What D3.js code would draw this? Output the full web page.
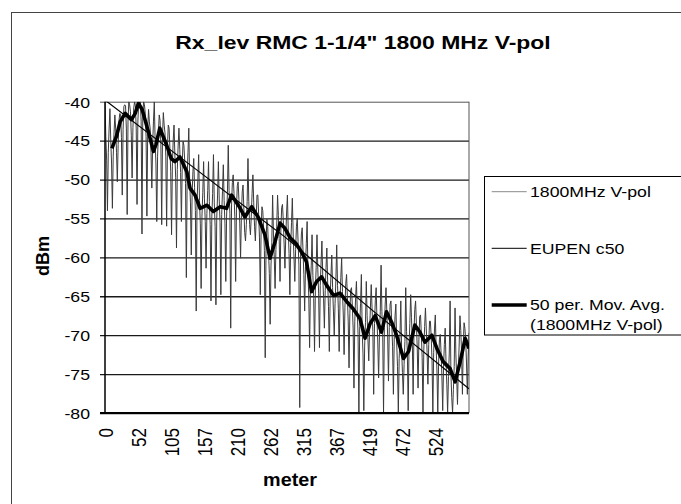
<!DOCTYPE html>
<html>
<head>
<meta charset="utf-8">
<script src="https://cdn.jsdelivr.net/npm/d3@7"></script>
<style>
html, body { margin: 0; padding: 0; background: #fff; }
svg { display: block; font-family: "Liberation Sans", Arial, sans-serif; }
</style>
</head>
<body>
<div id="chart"></div>
<script>
// y axis ticks (dBm)
const yTicks = [-40, -45, -50, -55, -60, -65, -70, -75, -80];

// x axis: category labels every 100 samples (meters)
const xTickMeters = [0, 52.43, 104.86, 157.29, 209.72, 262.15, 314.58, 367.01, 419.44, 471.87, 524.3];
const xTickLabels = ["0", "52", "105", "157", "210", "262", "315", "367", "419", "472", "524"];
const lastMeter = 578;

// 1800MHz V-pol, raw level (evenly spaced from 0 to lastMeter)
const rawDbm = [
  -40, -44.5, -47.5, -54, -46.5, -43.5,     -40.9, -45, -48, -53.7, -47, -44,
  -41.7, -43.5, -46.5, -50.3, -45.5, -42.5, -41.5, -41.6, -44.6, -52, -43.6, -40.6,
  -40.4, -40.5, -43.5, -54.5, -42.5, -40,   -40.4, -41.3, -44.3, -49.8, -43.3, -40.8,
  -40, -40.5, -43.5, -53.2, -42.5, -40.2,   -40.2, -40, -42.5, -57, -41.5, -40,
  -40.4, -41.5, -44.5, -54.7, -43.5, -41,   -42.6, -43.5, -46.5, -51.1, -45.5, -42.5,
  -40, -45, -48, -55.4, -47, -44,           -41.7, -42.4, -45.4, -55.8, -44.4, -41.4,
  -43, -44, -47, -56, -46, -43,             -43.4, -46, -49, -57.1, -48, -45,
  -43, -46.7, -49.7, -58.8, -48.7, -45.7,   -43.4, -46.1, -49.1, -55.4, -48.1, -45.1,
  -45.6, -47.5, -50.5, -62.6, -49.5, -46.5, -43.4, -50, -53, -59.7, -52, -49,
  -47.3, -51, -54, -66.9, -53, -50,         -46.8, -52.7, -55.7, -64, -54.7, -51.7,
  -47.7, -52.4, -55.4, -61.4, -54.4, -51.4, -47.7, -52.8, -55.8, -65.6, -54.8, -51.8,
  -46.8, -53, -56, -66.1, -55, -52,         -47.7, -52.5, -55.5, -64.8, -54.5, -51.5,
  -48.1, -52.7, -55.7, -63.1, -54.7, -51.7, -45.6, -51.4, -54.4, -69.1, -53.4, -50.4,
  -49.4, -51.8, -54.8, -63.1, -53.8, -50.8, -50.3, -52.6, -55.6, -60.1, -54.6, -51.6,
  -50.7, -53.8, -56.8, -57.9, -55.8, -52.8, -47.3, -52.8, -55.8, -57.1, -54.8, -51.8,
  -49.4, -53, -56, -57.9, -55, -52,         -52, -54.5, -57.5, -64.8, -56.5, -53.5,
  -54, -56.1, -59.1, -72.9, -58.1, -55.1,   -56, -59.1, -62.1, -68.6, -61.1, -58.1,
  -52, -57, -60, -64, -59, -56,             -52, -54.6, -57.6, -63.1, -56.6, -53.6,
  -53.2, -55.3, -58.3, -61.4, -57.3, -54.3, -52, -56.5, -59.5, -64.8, -58.5, -55.5,
  -52.4, -57, -60, -63.1, -59, -56,         -55, -58, -61, -79.3, -60, -57,
  -56.2, -59.2, -62.2, -66.9, -61.2, -58.2, -55.4, -62, -65, -71.6, -64, -61,
  -57.1, -62.3, -65.3, -72.1, -64.3, -61.3, -57.1, -61.6, -64.6, -71.6, -63.6, -60.6,
  -57.9, -62.3, -65.3, -69.1, -64.3, -61.3, -58.8, -63.3, -66.3, -72.1, -65.3, -62.3,
  -59.7, -63.9, -66.9, -70, -65.9, -62.9,   -58.4, -63.6, -66.6, -72.1, -65.6, -62.6,
  -60.1, -64.4, -67.4, -72.5, -66.4, -63.4, -62.2, -65.2, -68.2, -74.2, -67.2, -64.2,
  -63.9, -66.2, -69.2, -76.8, -68.2, -65.2, -63.1, -66.9, -69.9, -80, -68.9, -65.9,
  -62.2, -69.4, -72.4, -79.7, -71.4, -68.4, -63.1, -67.5, -70.5, -73.3, -69.5, -66.5,
  -63.5, -66.5, -69.5, -77.6, -68.5, -65.5, -63.9, -68, -71, -75.5, -70, -67,
  -61, -67, -70, -80, -69, -66,             -63.9, -67, -70, -75.9, -69, -66,
  -65.6, -68.5, -71.5, -77.6, -70.5, -67.5, -66, -71, -74, -80, -73, -70,
  -65.6, -71.8, -74.8, -77.6, -73.8, -70.8, -63.9, -69.5, -72.5, -79.7, -71.5, -68.5,
  -64.8, -67.7, -70.7, -77.6, -69.7, -66.7, -65.6, -68.6, -71.6, -76.8, -70.6, -67.6,
  -67.4, -69.9, -72.9, -80, -71.9, -68.9,   -66.5, -69.2, -72.2, -76.3, -71.2, -68.2,
  -68.2, -70.2, -73.2, -80, -72.2, -69.2,   -67.4, -71.6, -74.6, -80, -73.6, -70.6,
  -69.9, -72.2, -75.2, -79.7, -74.2, -71.2, -69.1, -73.3, -76.3, -80, -75.3, -72.3,
  -65.6, -75, -78, -80, -77, -74,           -66.5, -72.4, -75.4, -78.9, -74.4, -71.4,
  -67.5, -69.4, -72.4, -77.6, -71.4, -68.4, -69.1, -70.7, -73.7, -77.6, -72.7, -69.7
];

// EUPEN c50 prediction
const c50Meter = [0, 143, 286, 429, 578];
const c50Dbm = [-39.8, -48.6, -57.4, -67.1, -76.9];

// 50 per. Mov. Avg. (1800MHz V-pol)
const avgMeter = [11, 18, 24, 32, 42, 48, 53, 59, 69, 77, 81, 87, 98, 105, 111, 119, 130, 135, 143, 151,
                  162, 172, 183, 193, 201, 209, 214, 222, 233, 243, 254, 262, 270, 278, 286, 294, 303, 312, 320, 328,
                  336, 344, 352, 363, 373, 384, 394, 405, 413, 421, 429, 439, 447, 455, 463, 474, 482, 492, 500, 508,
                  519, 527, 537, 548, 556, 564, 572, 578];
const avgDbm = [-46, -44.5, -42.6, -41.5, -42.3, -41.5, -40.2, -41, -43.9, -46.4, -45.5, -43.4, -45.6, -47.3, -47.7, -47.1, -49, -51.1, -52, -53.7,
                -53.3, -54.1, -53.5, -53.7, -52, -53, -53.6, -54.8, -53.5, -54.8, -57.1, -60.1, -58, -55.6, -56.3, -57.5, -58.2, -59.3, -60.6, -64.4,
                -63.1, -62.5, -63.6, -64.9, -64.6, -65.7, -66.6, -67.9, -70.4, -68.5, -67.5, -69.6, -67, -68.3, -70, -73, -72.1, -68.7, -69.6, -70.9,
                -70, -71.7, -73.4, -74.3, -76, -73.4, -70.4, -71.7];

const legendNames = ["1800MHz V-pol", "EUPEN c50", "50 per. Mov. Avg."];

const plot = {left: 105, top: 101.7, right: 469, bottom: 413};
const stretch = 1.22; // scanned text is wider than it is tall
const rawColor = "#3a3a3a";

const svg = d3.select("#chart")
              .append("svg")
              .attr("width", 681)
              .attr("height", 504);

// chart area frame (runs off the page at right and bottom)
svg.append("rect")
   .attr("x", 11.5).attr("y", 12.5)
   .attr("width", 740).attr("height", 600)
   .attr("fill", "none")
   .attr("stroke", "#444");

// Title
svg.append("text")
   .attr("transform", `translate(363, 48.5) scale(${stretch}, 1)`)
   .attr("text-anchor", "middle")
   .style("font-weight", "bold")
   .style("font-size", "18.8px")
   .text('Rx_lev RMC 1-1/4" 1800 MHz V-pol');

// Scales
const x = d3.scaleLinear().domain([0, lastMeter]).range([plot.left, plot.right]);
const y = d3.scaleLinear().domain([-80, -40]).range([plot.bottom, plot.top]);

// Y axis + gridlines
const yAxis = svg.append("g")
   .attr("transform", `translate(${plot.left - 5}, 0)`)
   .call(d3.axisLeft(y).tickValues(yTicks).tickSize(-(plot.right - plot.left + 5)).tickFormat(d => String(d)))
   .attr("font-family", null)
   .attr("font-size", null);

yAxis.select(".domain").remove();
yAxis.selectAll("line")
     .attr("stroke", d => d === -40 ? "#555" : "#1a1a1a")
     .attr("stroke-width", d => d === -40 ? 1 : 1.3);
yAxis.selectAll("text")
     .attr("x", 0)
     .attr("dy", null)
     .attr("fill", "#000")
     .attr("dominant-baseline", "central")
     .attr("transform", `translate(-10, 0) scale(${stretch}, 1)`)
     .style("font-size", "14.5px");

// X axis labels (rotated)
const xAxis = svg.append("g")
   .attr("transform", `translate(0, ${plot.bottom})`)
   .call(d3.axisBottom(x).tickValues(xTickMeters).tickSize(0).tickFormat((_, i) => xTickLabels[i]))
   .attr("font-family", null)
   .attr("font-size", null);

xAxis.select(".domain").remove();
xAxis.selectAll("text")
     .attr("x", 0)
     .attr("y", 0)
     .attr("dy", null)
     .attr("fill", "#000")
     .attr("text-anchor", "end")
     .attr("dominant-baseline", "central")
     .attr("transform", `translate(0, 15) rotate(-90) scale(1, ${stretch})`)
     .style("font-size", "17px");

// plot border right side
svg.append("line")
   .attr("x1", plot.right).attr("x2", plot.right)
   .attr("y1", plot.top).attr("y2", plot.bottom)
   .attr("stroke", "#555");

// Series
svg.append("clipPath").attr("id", "plot-clip")
   .append("rect")
   .attr("x", plot.left).attr("y", plot.top)
   .attr("width", plot.right - plot.left).attr("height", plot.bottom - plot.top);

const series = svg.append("g").attr("clip-path", "url(#plot-clip)");

const rawLine = d3.line()
                  .x((_, i) => x(i * lastMeter / (rawDbm.length - 1)))
                  .y(d => y(d));

series.append("path")
      .attr("d", rawLine(rawDbm))
      .attr("fill", "none")
      .attr("stroke", rawColor)
      .attr("stroke-width", 1);

const pairLine = d3.line().x(d => x(d[0])).y(d => y(d[1]));

series.append("path")
      .attr("d", pairLine(c50Meter.map((m, i) => [m, c50Dbm[i]])))
      .attr("fill", "none")
      .attr("stroke", "#000")
      .attr("stroke-width", 1.2);

series.append("path")
      .attr("d", pairLine(avgMeter.map((m, i) => [m, avgDbm[i]])))
      .attr("fill", "none")
      .attr("stroke", "#000")
      .attr("stroke-width", 3.6)
      .attr("stroke-linejoin", "round");

// Axis lines
svg.append("line")
   .attr("x1", plot.left).attr("x2", plot.left)
   .attr("y1", plot.top).attr("y2", plot.bottom)
   .attr("stroke", "#000").attr("stroke-width", 1.5);

svg.append("line")
   .attr("x1", plot.left - 5).attr("x2", plot.right)
   .attr("y1", plot.bottom).attr("y2", plot.bottom)
   .attr("stroke", "#000").attr("stroke-width", 2);

// Axis titles
svg.append("text")
   .attr("transform", "translate(43, 256) rotate(-90)")
   .attr("text-anchor", "middle")
   .attr("dominant-baseline", "central")
   .style("font-weight", "bold")
   .style("font-size", "18px")
   .text("dBm");

svg.append("text")
   .attr("transform", "translate(290, 486) scale(1.1, 1)")
   .attr("text-anchor", "middle")
   .style("font-weight", "bold")
   .style("font-size", "18px")
   .text("meter");

// Legend
const legend = svg.append("g");

legend.append("rect")
      .attr("x", 484.5).attr("y", 176.5)
      .attr("width", 230).attr("height", 158.5)
      .attr("fill", "#fff")
      .attr("stroke", "#000");

const legendRows = [
  {name: legendNames[0], y: 191.7, stroke: "#8a8a8a", width: 1},
  {name: legendNames[1], y: 248.3, stroke: "#000", width: 1},
  {name: legendNames[2], y: 305, stroke: "#000", width: 3.6}
];

legendRows.forEach(r => {
  legend.append("line")
        .attr("x1", 491.7).attr("x2", 526.7)
        .attr("y1", r.y).attr("y2", r.y)
        .attr("stroke", r.stroke)
        .attr("stroke-width", r.width);
  legend.append("text")
        .attr("transform", `translate(530, ${r.y}) scale(${stretch}, 1)`)
        .attr("dominant-baseline", "central")
        .style("font-size", "14.5px")
        .text(r.name);
});

legend.append("text")
      .attr("transform", `translate(530, 325) scale(${stretch}, 1)`)
      .attr("dominant-baseline", "central")
      .style("font-size", "14.5px")
      .text("(1800MHz V-pol)");
</script>
</body>
</html>
